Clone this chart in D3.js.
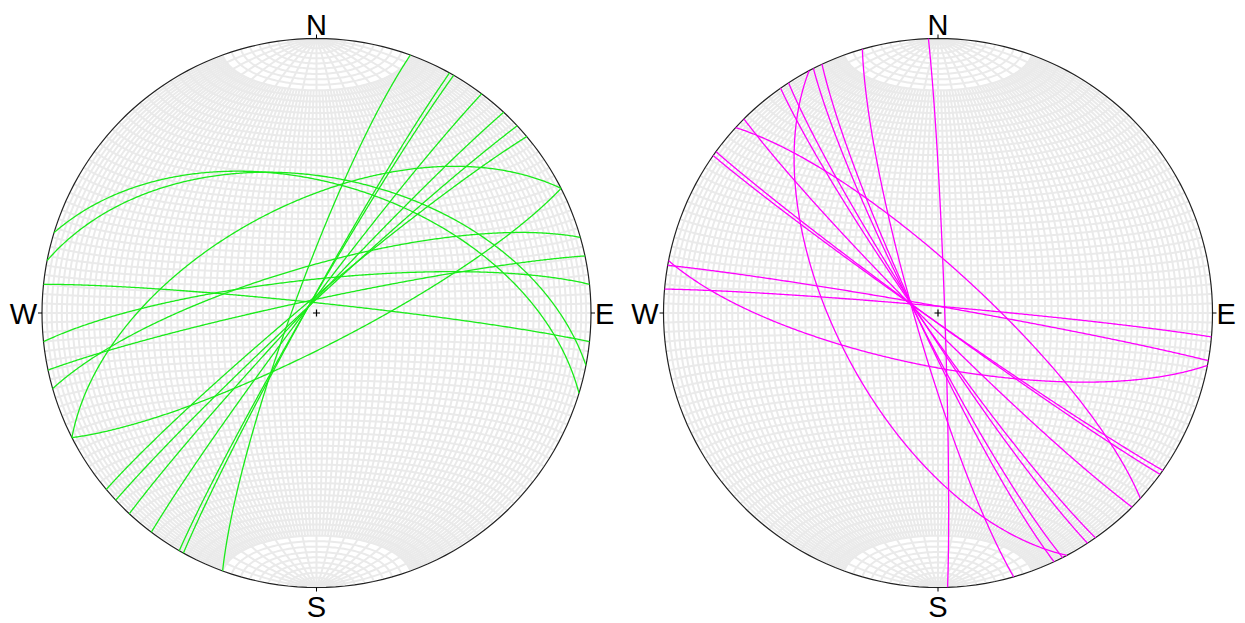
<!DOCTYPE html>
<html>
<head>
<meta charset="utf-8">
<script src="https://cdn.jsdelivr.net/npm/d3@7"></script>
<style>
  body { margin: 0; background: #fff; }
  svg { display: block; }
  .label { font-family: "Liberation Sans", Arial, sans-serif; font-size: 29px; fill: #000; }
</style>
</head>
<body>
<svg id="nets" width="1245" height="623"></svg>
<script>
const greenStrike = [200, 209, 210, 217, 223, 227, 230, 243, 63, 254, 258, 276, 281, 287, 264];
const greenDip    = [83,  87,  87,  87,  87,  87,  86,  57,  80, 76,  86,  87,  49,  51,  80];

const magentaStrike = [358, 164, 155, 153, 152, 147, 145, 135, 312.5, 126, 125, 101, 275, 280];
const magentaDip    = [88,  83,  84,  84,  60,  85,  85,  86,  77,    87.5, 87.5, 74, 88, 88];

const dirLabels = ["N", "E", "S", "W"];

const svg = d3.select("#nets");
const radius = 274.5;

const nets = [
    { cx: 316.5, cy: 313, strikes: greenStrike, dips: greenDip, color: "#1aeb1a" },
    { cx: 938, cy: 313, strikes: magentaStrike, dips: magentaDip, color: "#ff00ff" }
];

const rad = Math.PI / 180;

// great circle of a plane -> LineString on the (lon, lat) sphere of the net
function planeLine(strike, dip) {
    const trend = (strike - 90) * rad;   // pole trend
    const plunge = (90 - dip) * rad;     // pole plunge
    const e = Math.sin(trend) * Math.cos(plunge);
    const n = Math.cos(trend) * Math.cos(plunge);
    const d = Math.sin(plunge);
    const center = [Math.atan2(e, d) / rad, Math.asin(n) / rad];
    const ring = d3.geoCircle().center(center).radius(90).precision(0.5)().coordinates[0];
    return { type: "LineString", coordinates: ring };
}

// equal-area net grid: meridians every 2 deg up to 70, every 10 deg into the polar caps,
// parallels every 2 deg
function gridLines() {
    const lines = [];
    d3.range(-88, 89, 2).forEach(lon => {
        const lim = lon % 10 === 0 ? 90 : 70;
        lines.push({ type: "LineString", coordinates: d3.range(-lim, lim + 0.1, 1).map(lat => [lon, lat]) });
    });
    d3.range(-88, 89, 2).forEach(lat => {
        lines.push({ type: "LineString", coordinates: d3.range(-90, 90.1, 2).map(lon => [lon, lat]) });
    });
    return lines;
}

nets.forEach(net => {
    const projection = d3.geoAzimuthalEqualArea()
        .rotate([0, 0])
        .clipAngle(90)
        .scale(radius / Math.SQRT2)
        .translate([net.cx, net.cy]);
    const path = d3.geoPath().projection(projection);

    const g = svg.append("g");

    g.append("g")
        .selectAll("path")
        .data(gridLines())
        .enter().append("path")
        .attr("d", path)
        .style("fill", "none")
        .style("stroke", "#eaeaea")
        .style("stroke-width", 2);

    // primitive circle
    g.append("path")
        .datum({ type: "Sphere" })
        .attr("d", path)
        .style("fill", "none")
        .style("stroke", "#222")
        .style("stroke-width", 1.2);

    // planes
    g.append("g")
        .selectAll("path")
        .data(net.strikes.map((s, i) => planeLine(s, net.dips[i])))
        .enter().append("path")
        .attr("d", path)
        .style("fill", "none")
        .style("stroke", net.color)
        .style("stroke-width", 1.3);

    // centre cross
    g.append("path")
        .attr("d", `M${net.cx - 3.5},${net.cy}H${net.cx + 3.5}M${net.cx},${net.cy - 3.5}V${net.cy + 3.5}`)
        .style("stroke", "#000")
        .style("stroke-width", 1.2);

    // ticks
    dirLabels.forEach((lab, i) => {
        const a = i * 90 * rad;
        const sx = Math.sin(a), sy = -Math.cos(a);
        g.append("line")
            .attr("x1", net.cx + sx * radius)
            .attr("y1", net.cy + sy * radius)
            .attr("x2", net.cx + sx * (radius + 4))
            .attr("y2", net.cy + sy * (radius + 4))
            .style("stroke", "#000")
            .style("stroke-width", 1);
    });

    // direction labels
    const labelPos = {
        N: { x: net.cx, y: net.cy - radius - 3.5, anchor: "middle" },
        S: { x: net.cx, y: net.cy + radius + 29, anchor: "middle" },
        W: { x: net.cx - radius - 5, y: net.cy + 11, anchor: "end" },
        E: { x: net.cx + radius + 4, y: net.cy + 11, anchor: "start" }
    };
    dirLabels.forEach(lab => {
        const p = labelPos[lab];
        g.append("text")
            .attr("class", "label")
            .attr("x", p.x)
            .attr("y", p.y)
            .attr("text-anchor", p.anchor)
            .text(lab);
    });
});
</script>
</body>
</html>
